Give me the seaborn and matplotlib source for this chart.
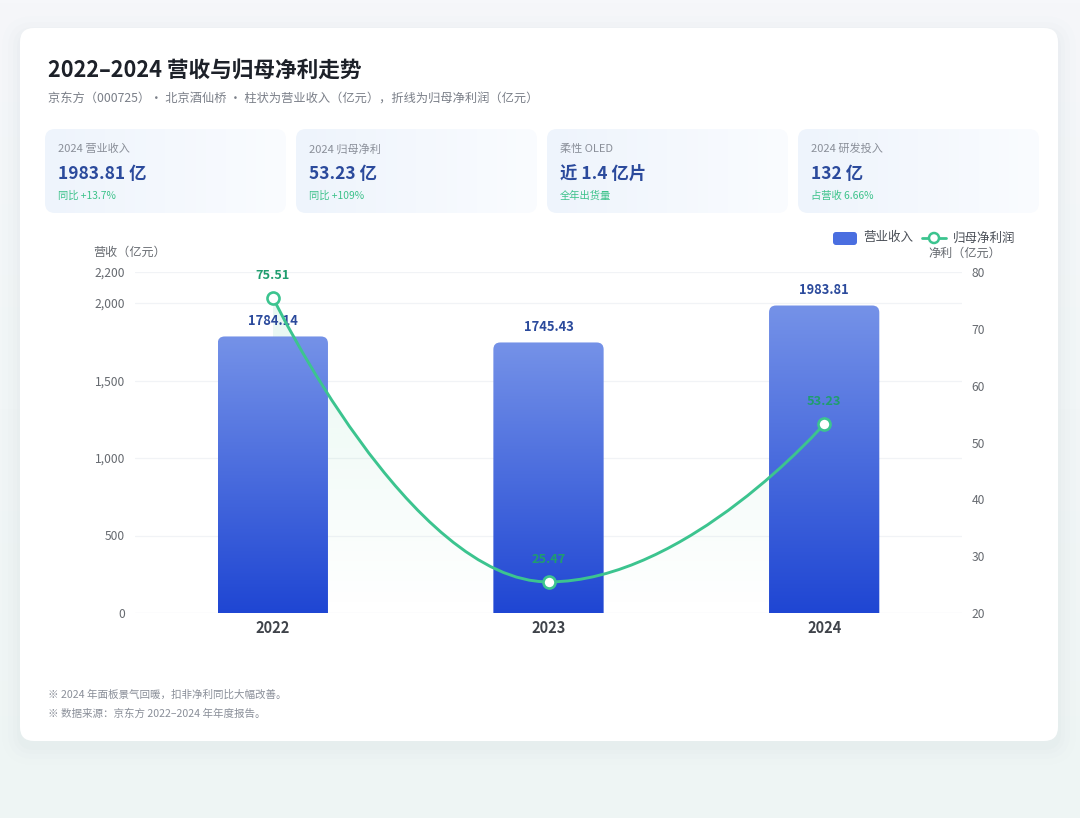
import numpy as np
import matplotlib
matplotlib.use("Agg")
import matplotlib.pyplot as plt
import seaborn as sns
from matplotlib.patches import FancyBboxPatch, PathPatch, Circle
from matplotlib.path import Path
from matplotlib.colors import to_rgb
from matplotlib.lines import Line2D

# ---- data -------------------------------------------------------------
years = ["2022", "2023", "2024"]
revenue = [1784.14, 1745.43, 1983.81]      # 营业收入（亿元）
net_profit = [75.51, 25.47, 53.23]         # 归母净利润（亿元）

left_ticks = [0, 500, 1000, 1500, 2000, 2200]
right_ticks = [20, 30, 40, 50, 60, 70, 80]

kpi_labels = ["2024 营业收入", "2024 归母净利", "柔性 OLED", "2024 研发投入"]
kpi_values = ["1983.81 亿", "53.23 亿", "近 1.4 亿片", "132 亿"]
kpi_notes = ["同比 +13.7%", "同比 +109%", "全年出货量", "占营收 6.66%"]

title = "2022–2024 营收与归母净利走势"
subtitle = "京东方（000725）· 北京酒仙桥 · 柱状为营业收入（亿元），折线为归母净利润（亿元）"
footnotes = ["※ 2024 年面板景气回暖，扣非净利同比大幅改善。",
             "※ 数据来源：京东方 2022–2024 年年度报告。"]

# ---- style ------------------------------------------------------------
BLUE_TOP = "#7592e8"
BLUE_BOT = "#1f46d3"
GREEN = "#3cc48f"
GREEN_TXT = "#1f9d6e"
NAVY = "#2b4a9c"
GREY = "#666a70"

sns.set_theme(style="white")
plt.rcParams["font.family"] = ["Noto Sans CJK SC", "DejaVu Sans"]
plt.rcParams["axes.unicode_minus"] = False

W, H = 1080, 818
fig = plt.figure(figsize=(W / 100, H / 100), dpi=100)

# background layer in pixel coordinates
bg = fig.add_axes([0, 0, 1, 1], zorder=0)
t = np.linspace(0, 1, 256)[:, None, None]
page = np.array(to_rgb("#f6f7fa")) * (1 - t) + np.array(to_rgb("#eef5f4")) * t
bg.imshow(page, extent=[0, W, H, 0], aspect="auto", zorder=0)
bg.set_xlim(0, W)
bg.set_ylim(H, 0)
bg.axis("off")

# soft card shadow + card
for grow, a in [(18, 0.012), (12, 0.018), (7, 0.022), (3, 0.028)]:
    bg.add_patch(FancyBboxPatch((20 - grow, 28 - grow + 6), 1038 + 2 * grow, 713 + 2 * grow,
                                boxstyle=f"round,pad=0,rounding_size={14 + grow}",
                                fc="#9aa8c0", ec="none", alpha=a, zorder=1))
bg.add_patch(FancyBboxPatch((20, 28), 1038, 713, boxstyle="round,pad=0,rounding_size=14",
                            fc="white", ec="none", zorder=2))

bg.text(48, 70, title, fontsize=15.6, fontweight="bold", color="#1d2129", va="center", zorder=3)
bg.text(48, 99, subtitle, fontsize=8.8, color="#7a7f88", va="center", zorder=3)

# KPI cards
kg = np.linspace(0, 1, 256)[None, :, None]
kpi_grad = np.array(to_rgb("#eef4fc")) * (1 - kg) + np.array(to_rgb("#fafcff")) * kg
for i in range(len(kpi_labels)):
    x0 = 45 + i * 251
    box = FancyBboxPatch((x0, 129), 241, 84, boxstyle="round,pad=0,rounding_size=10",
                         fc="none", ec="none", zorder=3)
    bg.add_patch(box)
    im = bg.imshow(kpi_grad, extent=[x0, x0 + 241, 213, 129], aspect="auto", zorder=3)
    im.set_clip_path(box)
    bg.text(x0 + 13, 149, kpi_labels[i], fontsize=8, color="#8a8f99", va="center", zorder=4)
    bg.text(x0 + 13, 174, kpi_values[i], fontsize=12.5, fontweight="bold", color=NAVY,
            va="center", zorder=4)
    bg.text(x0 + 13, 196, kpi_notes[i], fontsize=7.4, color="#3cc28a", va="center", zorder=4)

# axis titles + legend
bg.text(130, 252, "营收（亿元）", fontsize=8.7, color=GREY, ha="center", va="center", zorder=4)
bg.text(928, 253, "净利（亿元）", fontsize=8.7, color=GREY, ha="left", va="center", zorder=4)
bg.add_patch(FancyBboxPatch((833, 232), 24, 13, boxstyle="round,pad=0,rounding_size=3",
                            fc="#4a6ee0", ec="none", zorder=4))
bg.text(863, 238, "营业收入", fontsize=9, color="#4a4f57", va="center", zorder=4)
bg.add_line(Line2D([922, 946], [238, 238], color=GREEN, lw=2, zorder=4))
bg.add_patch(Circle((934, 238), 5, fc="white", ec=GREEN, lw=1.8, zorder=5))
bg.text(953, 238, "归母净利润", fontsize=9, color="#4a4f57", va="center", zorder=4)

for k, note in enumerate(footnotes):
    bg.text(48, 695 + k * 19, note, fontsize=7.6, color="#8a8f99", va="center", zorder=4)

bg.set_xlim(0, W)
bg.set_ylim(H, 0)

# ---- main chart -------------------------------------------------------
ax = fig.add_axes([135 / W, 1 - 613 / H, 827 / W, 341 / H], zorder=1)
ax.set_facecolor("none")
sns.barplot(x=years, y=revenue, ax=ax, width=0.4, color=BLUE_BOT, zorder=2)
ax.set_xlim(-0.5, len(years) - 0.5)
ax.set_ylim(0, 2200)

ax2 = ax.twinx()
ax2.set_zorder(ax.get_zorder() + 1)
ax2.patch.set_visible(False)
ax2.set_ylim(20, 80)

# rounded-top gradient bars, geometry taken from seaborn's patches
fig.canvas.draw()
bb = ax.get_window_extent()
px_x = bb.width / (len(years))
px_y = bb.height / 2200
r = 7 / px_x
bg_grad = np.linspace(0, 1, 256)[:, None, None]
bar_img = np.array(to_rgb(BLUE_BOT)) * (1 - bg_grad) + np.array(to_rgb(BLUE_TOP)) * bg_grad
for p in list(ax.patches):
    x0, w, h = p.get_x(), p.get_width(), p.get_height()
    p.set_visible(False)
    rp = FancyBboxPatch((x0, -200), w, h + 200, boxstyle=f"round,pad=0,rounding_size={r}",
                        mutation_aspect=px_x / px_y, fc="none", ec="none",
                        transform=ax.transData)
    ax.add_patch(rp)
    im = ax.imshow(bar_img, extent=[x0, x0 + w, 0, h], origin="lower", aspect="auto", zorder=2)
    im.set_clip_path(rp)
    ax.annotate(f"{h:.2f}", (x0 + w / 2, h), xytext=(0, 11), textcoords="offset points",
                ha="center", va="center", fontsize=9.3, fontweight="bold", color=NAVY, zorder=5)

# smooth curve for net profit (horizontal tangent at turning points)
xs = np.arange(len(years), dtype=float)
ys = np.array(net_profit)
slopes = np.zeros(len(xs))
for i in range(1, len(xs) - 1):
    if (ys[i] - ys[i - 1]) * (ys[i + 1] - ys[i]) > 0:
        slopes[i] = (ys[i + 1] - ys[i - 1]) / (xs[i + 1] - xs[i - 1])
verts = [(xs[0], ys[0])]
codes = [Path.MOVETO]
for i in range(len(xs) - 1):
    dx = xs[i + 1] - xs[i]
    k0 = 0 if i == 0 else 0.5
    k1 = 0 if i + 1 == len(xs) - 1 else 0.5
    verts += [(xs[i] + k0 * dx, ys[i] + k0 * dx * slopes[i]),
              (xs[i + 1] - k1 * dx, ys[i + 1] - k1 * dx * slopes[i + 1]),
              (xs[i + 1], ys[i + 1])]
    codes += [Path.CURVE4] * 3
curve = Path(verts, codes)
ax2.add_patch(PathPatch(curve, fc="none", ec=GREEN, lw=2.1, zorder=3, capstyle="round"))

# faint area under the curve, drawn below the bars
fill_path = Path(verts + [(xs[-1], 20), (xs[0], 20), (xs[0], ys[0])],
                 codes + [Path.LINETO, Path.LINETO, Path.CLOSEPOLY])
fill_clip = PathPatch(fill_path, transform=ax2.transData, fc="none", ec="none")
fa = np.linspace(0, 1, 256)[:, None]
fill_img = np.zeros((256, 1, 4))
fill_img[..., :3] = to_rgb(GREEN)
fill_img[..., 3] = 0.13 * fa
fim = ax.imshow(fill_img, extent=[xs[0], xs[-1], 0, 2200], origin="lower", aspect="auto", zorder=1)
fim.set_clip_path(fill_clip)

sns.scatterplot(x=xs, y=net_profit, ax=ax2, s=75, color="white", edgecolor=GREEN,
                linewidth=1.9, zorder=4, legend=False)
for xv, yv in zip(xs, net_profit):
    ax2.annotate(f"{yv:.2f}", (xv, yv), xytext=(0, 16), textcoords="offset points",
                 ha="center", va="center", fontsize=9.2, fontweight="bold", color=GREEN_TXT,
                 zorder=5)

# axes cosmetics
ax.set_xlim(-0.5, len(years) - 0.5)
ax.set_ylim(0, 2200)
ax.set_yticks(left_ticks)
ax.set_yticklabels([f"{v:,}" for v in left_ticks])
for v in left_ticks:
    ax.axhline(v, color="#e8ebf0" if v == 0 else "#f1f3f6", lw=0.9, zorder=0)
ax.tick_params(axis="y", length=0, pad=7, labelsize=8.7, labelcolor=GREY)
ax.tick_params(axis="x", length=0, pad=5, labelsize=10.5, labelcolor="#3f434a")
for lab in ax.get_xticklabels():
    lab.set_fontweight("bold")
ax.set_xlabel("")
ax.set_ylabel("")

ax2.set_ylim(20, 80)
ax2.set_yticks(right_ticks)
ax2.tick_params(axis="y", length=0, pad=7, labelsize=8.7, labelcolor=GREY)
ax2.set_ylabel("")
ax2.set_xlim(-0.5, len(years) - 0.5)
for a in (ax, ax2):
    for s in a.spines.values():
        s.set_visible(False)
ax2.grid(False)
ax.grid(False)

fig.savefig("out.png", dpi=100)
